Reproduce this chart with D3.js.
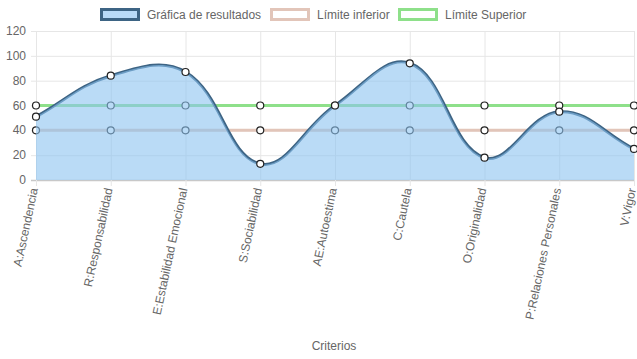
<!DOCTYPE html>
<html>
<head>
<meta charset="utf-8">
<script src="https://cdn.jsdelivr.net/npm/d3@7"></script>
<style>
  body { margin: 0; background: #fff; }
  text { font-family: Arial, "Liberation Sans", sans-serif; fill: #666; }
</style>
</head>
<body>
<svg width="637" height="359"></svg>
<script>
// chart values
var categories = ["A:Ascendencia", "R:Responsabilidad", "E:Estabilidad Emocional", "S:Sociabilidad",
  "AE:Autoestima", "C:Cautela", "O:Originalidad", "P:Relaciones Personales", "V:Vigor"];
var resultados = [51, 84, 87, 13, 60, 94, 18, 55, 25];
var limiteInferior = [40, 40, 40, 40, 40, 40, 40, 40, 40];
var limiteSuperior = [60, 60, 60, 60, 60, 60, 60, 60, 60];
var yTicks = [0, 20, 40, 60, 80, 100, 120];

var svg = d3.select("svg");
var plotLeft = 36, plotRight = 634, plotTop = 31, plotBottom = 180;

var x = d3.scalePoint().domain(categories).range([plotLeft, plotRight]);
var y = d3.scaleLinear().domain([0, 120]).range([plotBottom, plotTop]);

// grid
var grid = svg.append("g");
grid.selectAll(".hg").data(yTicks).enter().append("line")
  .attr("x1", plotLeft - 5).attr("x2", plotRight)
  .attr("y1", function(d) { return y(d) + 0.5; })
  .attr("y2", function(d) { return y(d) + 0.5; })
  .attr("stroke", function(d) { return d == 0 ? "#c8c8c8" : "#e6e6e6"; })
  .attr("stroke-width", function(d) { return d == 0 ? 1.5 : 1; });
grid.selectAll(".vg").data(categories).enter().append("line")
  .attr("x1", function(d) { return x(d) + 0.5; })
  .attr("x2", function(d) { return x(d) + 0.5; })
  .attr("y1", plotTop).attr("y2", plotBottom + 6)
  .attr("stroke", "#e6e6e6");

// y labels
svg.append("g").selectAll("text").data(yTicks).enter().append("text")
  .attr("x", 26).attr("y", function(d) { return y(d) + 4; })
  .attr("text-anchor", "end").attr("font-size", 12)
  .text(function(d) { return d; });

// x labels
svg.append("g").selectAll("text").data(categories).enter().append("text")
  .attr("transform", function(d) { return "translate(" + (x(d) + 2) + "," + (plotBottom + 9) + ") rotate(-78)"; })
  .attr("text-anchor", "end").attr("font-size", 12)
  .text(function(d) { return d; });

svg.append("text").attr("x", 334).attr("y", 350)
  .attr("text-anchor", "middle").attr("font-size", 12).text("Criterios");

// spline like the tension 0.4 curve of the original chart
function spline(values, closeArea) {
  var pts = values.map(function(v, i) { return [x(categories[i]), y(v)]; });
  var t = 0.4, cps = [];
  pts.forEach(function(p, i) {
    var prev = pts[Math.max(i - 1, 0)], next = pts[Math.min(i + 1, pts.length - 1)];
    var d01 = Math.hypot(p[0] - prev[0], p[1] - prev[1]);
    var d12 = Math.hypot(next[0] - p[0], next[1] - p[1]);
    var s01 = d01 / (d01 + d12) || 0, s12 = d12 / (d01 + d12) || 0;
    var fa = t * s01, fb = t * s12;
    var clampY = function(v) { return Math.max(plotTop, Math.min(plotBottom, v)); };
    cps.push({
      px: p[0] - fa * (next[0] - prev[0]), py: clampY(p[1] - fa * (next[1] - prev[1])),
      nx: p[0] + fb * (next[0] - prev[0]), ny: clampY(p[1] + fb * (next[1] - prev[1]))
    });
  });
  var path = d3.path();
  path.moveTo(pts[0][0], pts[0][1]);
  for (var i = 1; i < pts.length; i++) {
    path.bezierCurveTo(cps[i - 1].nx, cps[i - 1].ny, cps[i].px, cps[i].py, pts[i][0], pts[i][1]);
  }
  if (closeArea) {
    path.lineTo(pts[pts.length - 1][0], plotBottom);
    path.lineTo(pts[0][0], plotBottom);
    path.closePath();
  }
  return path.toString();
}

svg.append("clipPath").attr("id", "clip").append("rect")
  .attr("x", plotLeft - 2).attr("y", plotTop).attr("width", plotRight - plotLeft + 4).attr("height", plotBottom - plotTop);

var plot = svg.append("g").attr("clip-path", "url(#clip)");

var series = [
  { data: limiteSuperior, color: "#8ee08a" },
  { data: limiteInferior, color: "#e2c5b9" }
];
series.forEach(function(s) {
  plot.append("path").attr("d", spline(s.data))
    .attr("fill", "none").attr("stroke", s.color).attr("stroke-width", 3);
});
series.forEach(function(s) {
  svg.append("g").selectAll("circle").data(s.data).enter().append("circle")
    .attr("cx", function(d, i) { return x(categories[i]); })
    .attr("cy", function(d) { return y(d); })
    .attr("r", 3.5).attr("fill", "#fff").attr("stroke", "#222").attr("stroke-width", 1.2);
});

// results on top
svg.append("path").attr("d", spline(resultados, true))
  .attr("fill", "rgba(140,195,240,0.6)");
plot.append("path").attr("d", spline(resultados))
  .attr("fill", "none").attr("stroke", "#3d6484").attr("stroke-width", 3);
svg.append("g").selectAll("circle").data(resultados).enter().append("circle")
  .attr("cx", function(d, i) { return x(categories[i]); })
  .attr("cy", function(d) { return y(d); })
  .attr("r", 3.5).attr("fill", "#fff").attr("stroke", "#222").attr("stroke-width", 1.2);

// legend
var legend = [
  { label: "Gráfica de resultados", x: 100, fill: "#b8daf7", stroke: "#3d6484" },
  { label: "Límite inferior", x: 270, fill: "#fff", stroke: "#e2c5b9" },
  { label: "Límite Superior", x: 398, fill: "#fff", stroke: "#8ee08a" }
];
var lg = svg.append("g").selectAll("g").data(legend).enter().append("g");
lg.append("rect").attr("x", function(d) { return d.x + 1.5; }).attr("y", 9.5)
  .attr("width", 37).attr("height", 10)
  .attr("fill", function(d) { return d.fill; })
  .attr("stroke", function(d) { return d.stroke; }).attr("stroke-width", 3);
lg.append("text").attr("x", function(d) { return d.x + 47; }).attr("y", 19)
  .attr("font-size", 12).text(function(d) { return d.label; });
</script>
</body>
</html>
